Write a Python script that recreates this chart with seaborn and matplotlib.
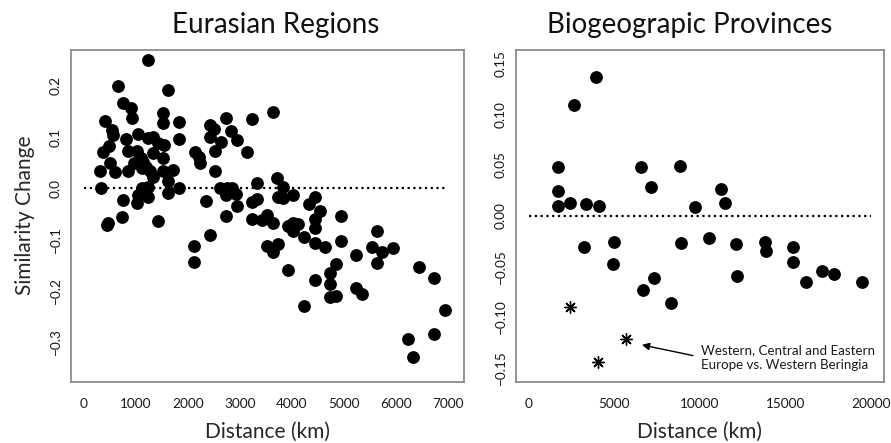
import matplotlib
matplotlib.use("Agg")
import matplotlib.pyplot as plt
import seaborn as sns
import pandas as pd

# ---------------- data ----------------
eur_dist = [1225, 648, 1622, 756, 904, 1526, 3628, 404, 917, 1526, 1827, 2724, 3224, 2423, 2500,
            532, 551, 1032, 2423, 2827, 2936, 801, 1225, 1333, 1827, 1429, 1538, 2635, 474, 372,
            840, 1013, 1333, 1526, 1096, 2128, 2218, 2519, 3128, 500, 962, 1141, 1192, 1109, 1269,
            2231, 308, 596, 853, 1526, 1718, 2519, 1333, 1622, 3320, 3718, 327, 1109, 1237, 1827,
            2615, 2744, 2840, 1622, 2724, 2917, 756, 1032, 1025, 1225, 2346, 2936, 3224, 3320, 3731,
            436, 468, 737, 1417, 2724, 3224, 3417, 3526, 3628, 2423, 2122, 2122, 3526, 3628, 3733,
            3833, 3833, 4025, 4442, 4333, 4538, 3929, 4025, 4121, 4025, 4442, 4442, 4936, 4936, 4237,
            4442, 4635, 3929, 4442, 4731, 4846, 4731, 4731, 4840, 4237, 5231, 5231, 5340, 5628, 5532,
            5737, 5936, 5628, 6442, 6737, 6942, 6237, 6737, 6333]
eur_change = [0.251, 0.200, 0.192, 0.167, 0.157, 0.148, 0.150, 0.131, 0.137, 0.127, 0.130, 0.137, 0.136, 0.124, 0.115,
              0.114, 0.105, 0.107, 0.101, 0.112, 0.094, 0.096, 0.099, 0.100, 0.096, 0.088, 0.085, 0.090, 0.083, 0.070,
              0.073, 0.073, 0.068, 0.060, 0.060, 0.070, 0.062, 0.073, 0.070, 0.049, 0.050, 0.052, 0.042, 0.039, 0.034,
              0.049, 0.033, 0.031, 0.034, 0.033, 0.036, 0.033, 0.023, 0.015, 0.011, 0.020, 0.000, 0.000, 0.002, 0.000,
              0.001, 0.001, 0.001, -0.010, -0.013, -0.011, -0.023, -0.014, -0.028, -0.016, -0.024, -0.034, -0.027, -0.021, -0.016,
              -0.072, -0.067, -0.057, -0.063, -0.055, -0.059, -0.061, -0.052, -0.067, -0.091, -0.113, -0.143, -0.112, -0.124, -0.108,
              0.002, -0.018, -0.013, -0.016, -0.031, -0.044, -0.074, -0.068, -0.070, -0.083, -0.060, -0.078, -0.054, -0.102, -0.096,
              -0.106, -0.114, -0.160, -0.179, -0.166, -0.148, -0.186, -0.213, -0.210, -0.230, -0.130, -0.195, -0.207, -0.083, -0.115,
              -0.125, -0.117, -0.145, -0.153, -0.176, -0.238, -0.294, -0.285, -0.329]

bio_dist = [3932, 2666, 1715, 1715, 6557, 7141, 8850, 1715, 2392, 3366, 4084, 9725, 3250, 5000, 4959,
            8891, 6674, 7333, 8325, 11225, 11476, 10560, 12100, 12193, 13810, 13850, 15460, 15425, 16183,
            17153, 17835, 19485]
bio_change = [0.1365, 0.109, 0.0477, 0.0244, 0.0477, 0.028, 0.0493, 0.0099, 0.0122, 0.0115, 0.0099, 0.0083, -0.0312, -0.0256, -0.048,
              -0.0266, -0.0733, -0.0617, -0.0858, 0.0258, 0.0128, -0.0223, -0.0279, -0.0592, -0.0256, -0.0345, -0.0306, -0.0454, -0.0651,
              -0.0542, -0.0578, -0.0651]

star_dist = [2392, 5682, 4026]
star_change = [-0.0897, -0.1216, -0.1446]

left_xticks = [0, 1000, 2000, 3000, 4000, 5000, 6000, 7000]
left_yticks = [-0.3, -0.2, -0.1, 0.0, 0.1, 0.2]
right_xticks = [0, 5000, 10000, 15000, 20000]
right_yticks = [-0.15, -0.10, -0.05, 0.00, 0.05, 0.10, 0.15]

# ---------------- style ----------------
sns.set_style("white")
plt.rcParams["font.family"] = ["Lato", "DejaVu Sans"]

W, H = 891, 443
fig = plt.figure(figsize=(W / 100, H / 100), dpi=100)

def ax_rect(x0, y0, x1, y1):
    return [x0 / W, 1 - y1 / H, (x1 - x0) / W, (y1 - y0) / H]

axL = fig.add_axes(ax_rect(71, 49.5, 464, 381.7))
axR = fig.add_axes(ax_rect(515.7, 49.5, 884, 381.7))

grey = "#8c8c8c"
dot_style = (0, (1, 1.6))

def style(ax):
    for s in ax.spines.values():
        s.set_color(grey)
        s.set_linewidth(1.3)
        s.set_visible(True)
    ax.tick_params(direction="out", length=4.5, width=1.0, color=grey,
                   labelsize=9.8, labelcolor="#1a1a1a")
    ax.tick_params(axis="x", pad=7)
    ax.tick_params(axis="y", pad=2)
    for lab in ax.get_yticklabels():
        lab.set_rotation(90)
        lab.set_va("center")

dfL = pd.DataFrame({"Distance (km)": eur_dist, "Similarity Change": eur_change})
sns.scatterplot(data=dfL, x="Distance (km)", y="Similarity Change", ax=axL,
                color="black", s=85, linewidth=0, legend=False)
axL.plot([0, 7000], [0, 0], color="black", lw=1.6, linestyle=dot_style)
axL.set_xlim(-250, 7308)
axL.set_ylim(-0.3777, 0.2711)
axL.set_xticks(left_xticks)
axL.set_xticklabels([str(v) for v in left_xticks])
axL.set_yticks(left_yticks)
axL.set_yticklabels(["\u22120.3", "\u22120.2", "\u22120.1", "0.0", "0.1", "0.2"])
style(axL)
axL.set_xlabel("Distance (km)", fontsize=15, labelpad=9)
axL.set_ylabel("Similarity Change", fontsize=15, labelpad=11)

dfR = pd.DataFrame({"d": bio_dist, "c": bio_change})
sns.scatterplot(data=dfR, x="d", y="c", ax=axR, color="black", s=85, linewidth=0, legend=False)
dfS = pd.DataFrame({"d": star_dist, "c": star_change})
sns.scatterplot(data=dfS, x="d", y="c", ax=axR, color="black", marker=(8, 2, 0), s=70,
                linewidth=1.0, edgecolor="black", legend=False)
axR.plot([0, 20000], [0, 0], color="black", lw=1.6, linestyle=dot_style)
axR.set_xlim(-750, 20750)
axR.set_ylim(-0.1638, 0.1638)
axR.set_xticks(right_xticks)
axR.set_xticklabels([str(v) for v in right_xticks])
axR.set_yticks(right_yticks)
axR.set_yticklabels(["\u22120.15", "\u22120.10", "\u22120.05", "0.00", "0.05", "0.10", "0.15"])
style(axR)
axR.set_xlabel("Distance (km)", fontsize=15, labelpad=9)
axR.set_ylabel("")

# titles
fig.text(276 / W, 1 - 33.5 / H, "Eurasian Regions", fontsize=20, ha="center", va="baseline",
         color="#111111")
fig.text(690 / W, 1 - 33.5 / H, "Biogeograpic Provinces", fontsize=20, ha="center", va="baseline",
         color="#111111")

# annotation
axR.annotate("", xy=(6616, -0.1275), xytext=(9591, -0.1380),
             arrowprops=dict(arrowstyle="-|>", color="black", lw=1.0,
                             mutation_scale=11, shrinkA=0, shrinkB=0))
axR.text(10058, -0.1398, "Western, Central and Eastern\nEurope vs. Western Beringia",
         fontsize=9.6, ha="left", va="center", linespacing=1.3, color="#1a1a1a")

fig.savefig("out.png", dpi=100, facecolor="white")
